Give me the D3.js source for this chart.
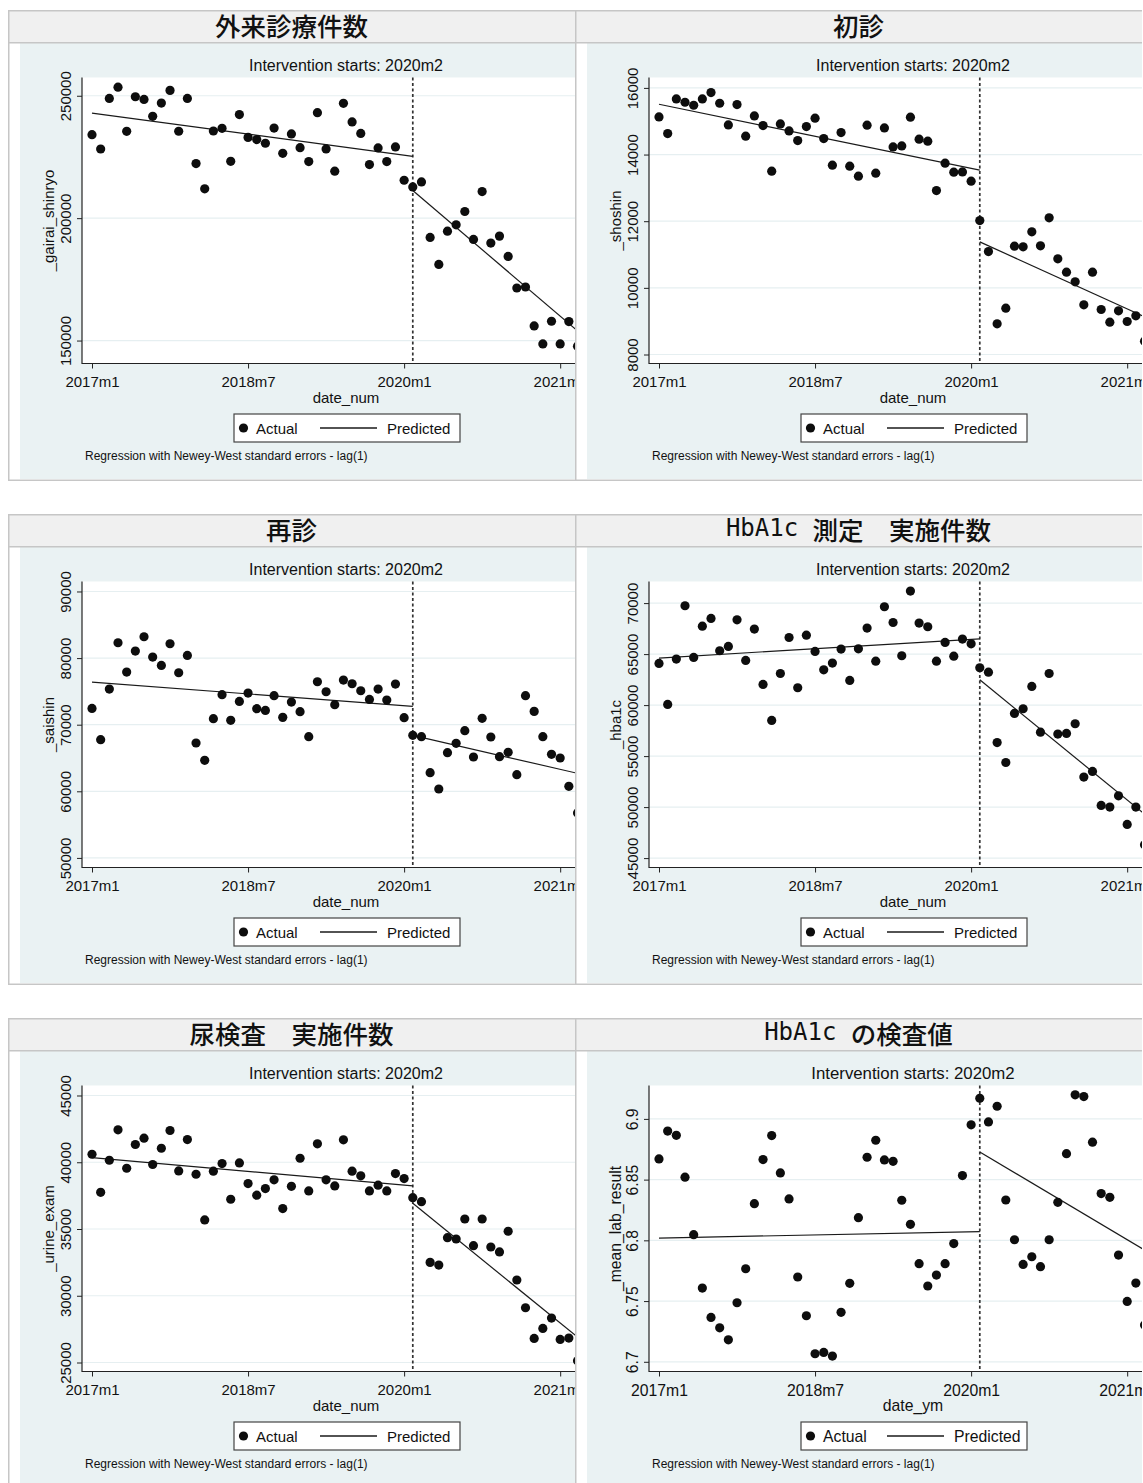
<!DOCTYPE html>
<html>
<head>
<meta charset="utf-8">
<script src="https://cdn.jsdelivr.net/npm/d3@7"></script>
<style>
  body { margin: 0; background: #fff; }
  text { font-family: "Liberation Sans", Arial, sans-serif; fill: #111; }
</style>
</head>
<body>
<script>
// month index 0 = 2017m1, 56 = 2021m9 (right edge of each crop)
const months = d3.range(57);
const tickMonths = [0, 18, 36, 54];
const tickLabels = ["2017m1", "2018m7", "2020m1", "2021m7"];
const interventionMonth = 37;   // 2020m2

// actual values
const gairai = [234100, 228260, 248900, 253500, 235460, 249600, 248500, 241600, 247000, 252200,
  235500, 248900, 222300, 212000, 235600, 236700, 223200, 242300, 233000, 232100,
  230600, 236800, 226500, 234400, 228800, 223100, 243100, 228300, 219200, 246900,
  239300, 234600, 221900, 228700, 223100, 229100, 215490, 212770, 214810, 192120,
  181110, 194700, 197280, 202720, 191300, 210870, 189810, 192660, 184370, 171470,
  171880, 155980, 148640, 157880, 148640, 157740, 147690];
const shoshin = [15130, 14630, 15670, 15570, 15480, 15670, 15860, 15540, 14890, 15500,
  14550, 15160, 14870, 13500, 14920, 14710, 14420, 14840, 15090, 14480,
  13680, 14660, 13650, 13350, 14880, 13440, 14800, 14230, 14260, 15120,
  14460, 14400, 12920, 13740, 13470, 13480, 13200, 12020, 11090, 8920,
  9390, 11250, 11230, 11680, 11260, 12100, 10870, 10470, 10180, 9490,
  10470, 9350, 8970, 9310, 8990, 9160, 8400];
const saishin = [72450, 67750, 75350, 82300, 77900, 81050, 83200, 80150, 78900, 82150,
  77800, 80400, 67250, 64650, 70900, 74500, 70650, 73500, 74750, 72400,
  72150, 74350, 71100, 73400, 71950, 68200, 76450, 74950, 73000, 76700,
  76150, 75100, 73800, 75350, 73700, 76100, 71050, 68400, 68200, 62800,
  60350, 65800, 67200, 69100, 65150, 70950, 68150, 65200, 65850, 62500,
  74350, 72000, 68200, 65550, 65000, 60750, 56750];
const hba1c = [64085, 60065, 64510, 69740, 64670, 67740, 68500, 65330, 65750, 68360,
  64380, 67450, 62030, 58500, 63100, 66630, 61700, 66860, 65260, 63460,
  64120, 65490, 62420, 65520, 67550, 64310, 69640, 68100, 64840, 71180,
  68040, 67680, 64310, 66140, 64800, 66470, 66010, 63660, 63230, 56330,
  54370, 59180, 59640, 61830, 57350, 63100, 57160, 57220, 58170, 52940,
  53500, 50160, 50000, 51110, 48300, 50000, 46310];
const urine = [40600, 37750, 40150, 42430, 39550, 41330, 41800, 39830, 41050, 42380,
  39350, 41700, 39100, 35680, 39330, 39900, 37230, 39950, 38400, 37530,
  38030, 38680, 36530, 38200, 40300, 37850, 41380, 38680, 38230, 41680,
  39330, 38980, 37850, 38280, 37850, 39150, 38780, 37350, 37050, 32500,
  32300, 34350, 34250, 35750, 33750, 35750, 33650, 33280, 34830, 31180,
  29100, 26800, 27550, 28330, 26730, 26830, 25130];
const labResult = [6.867, 6.890, 6.8865, 6.852, 6.8047, 6.7607, 6.7365, 6.728, 6.7181, 6.7486,
  6.7766, 6.8302, 6.8665, 6.8863, 6.8555, 6.8341, 6.7698, 6.7379, 6.7066, 6.7077,
  6.7047, 6.7407, 6.7646, 6.8187, 6.8684, 6.8824, 6.8662, 6.8651, 6.833, 6.8132,
  6.7808, 6.7624, 6.7714, 6.7808, 6.7973, 6.8533, 6.8951, 6.917, 6.8975, 6.9104,
  6.8332, 6.8005, 6.7802, 6.7865, 6.7783, 6.8005, 6.8313, 6.8714, 6.9198, 6.9184,
  6.8808, 6.8385, 6.8354, 6.7879, 6.7497, 6.7648, 6.7302];

// predicted segments: [value at start, value at end]
const predMonths = { pre: [0, 37], post: [37, 56] };
const gairaiPred   = { pre: [242930, 225270], post: [211280, 153940] };
const shoshinPred  = { pre: [15510, 13530],   post: [11380, 9130] };
const saishinPred  = { pre: [76400, 72750],   post: [68400, 62700] };
const hba1cPred    = { pre: [64610, 66500],   post: [62480, 49310] };
const urinePred    = { pre: [40350, 38230],   post: [36930, 26900] };
const labPred      = { pre: [6.8019, 6.8071], post: [6.8728, 6.792] };

const titles = ["外来診療件数", "初診", "再診", "HbA1c 測定　実施件数", "尿検査　実施件数", "HbA1c の検査値"];
const yTitles = ["_gairai_shinryo", "_shoshin", "_saishin", "_hba1c", "_urine_exam", "_mean_lab_result"];
const xTitles = ["date_num", "date_num", "date_num", "date_num", "date_num", "date_ym"];
const yTicks = [
  [150000, 200000, 250000],
  [8000, 10000, 12000, 14000, 16000],
  [50000, 60000, 70000, 80000, 90000],
  [45000, 50000, 55000, 60000, 65000, 70000],
  [25000, 30000, 35000, 40000, 45000],
  [6.7, 6.75, 6.8, 6.85, 6.9]
];
const yDomains = [[140625, 257460], [7730, 16312], [48562, 91498], [44078, 72118], [24326, 45749], [6.692, 6.9275]];
const series = [gairai, shoshin, saishin, hba1c, urine, labResult];
const preds = [gairaiPred, shoshinPred, saishinPred, hba1cPred, urinePred, labPred];

// layout
const W = 1143, H = 1483;
const panelW = 567, panelH = 471;
const colX = [8, 575], rowY = [10, 514, 1018];
const plotTop = 67.5, plotBottom = 353.5, axisX = 74;
const x0 = 84, monthW = 8.67;

const svg = d3.select("body").append("svg").attr("width", W).attr("height", H);
const defs = svg.append("defs");

series.forEach((vals, i) => {
  const px = colX[i % 2], py = rowY[Math.floor(i / 2)];
  const fs = i === 5 ? 1.05 : 1;   // last crop is a touch larger

  defs.append("clipPath").attr("id", "clip" + i)
    .append("rect").attr("x", 0).attr("y", 0).attr("width", panelW).attr("height", panelH);

  const g = svg.append("g")
    .attr("transform", `translate(${px},${py})`)
    .attr("clip-path", `url(#clip${i})`);

  // background, graph region, title bar
  g.append("rect").attr("width", panelW).attr("height", panelH).attr("fill", "#fff");
  g.append("rect").attr("x", 12).attr("y", 33).attr("width", panelW - 12).attr("height", panelH - 35)
    .attr("fill", "#eaf2f3");
  g.append("rect").attr("x", 0.75).attr("y", 0.75).attr("width", panelW + 2).attr("height", panelH - 1.5)
    .attr("fill", "none").attr("stroke", "#c6c6c6").attr("stroke-width", 1.5);
  g.append("rect").attr("x", 0.75).attr("y", 0.75).attr("width", panelW + 2).attr("height", 32)
    .attr("fill", "#f0f0f0").attr("stroke", "#c6c6c6").attr("stroke-width", 1.5);

  const t = g.append("text")
    .attr("x", panelW / 2).attr("y", 14)
    .attr("text-anchor", "middle").attr("dominant-baseline", "central")
    .style("font-size", "25px");
  titles[i].split(/([A-Za-z0-9 ]+)/).filter(s => s.length).forEach(s => {
    const ascii = /^[A-Za-z0-9 ]+$/.test(s);
    t.append("tspan").text(s)
      .style("font-family", ascii ? "'DejaVu Sans Mono', monospace" : "'Noto Sans CJK JP', sans-serif")
      .style("font-size", ascii ? "24px" : "25.5px")
      .style("font-weight", ascii ? 400 : 500);
  });

  // scales
  const x = d3.scaleLinear().domain([0, 54]).range([x0, x0 + 54 * monthW]);
  const y = d3.scaleLinear().domain(yDomains[i]).range([plotBottom, plotTop]);

  // plot region
  g.append("rect").attr("x", axisX).attr("y", plotTop).attr("width", panelW - axisX)
    .attr("height", plotBottom - plotTop).attr("fill", "#fff");

  g.append("g").selectAll("line").data(yTicks[i]).join("line")
    .attr("x1", axisX).attr("x2", panelW)
    .attr("y1", d => y(d)).attr("y2", d => y(d))
    .attr("stroke", "#e6eff1").attr("stroke-width", 1.2);

  g.append("text")
    .attr("x", 338).attr("y", 61)
    .attr("text-anchor", "middle")
    .style("font-size", (16 * fs) + "px")
    .text("Intervention starts: 2020m2");

  // y axis
  const fmt = i === 5 ? (d => String(+d.toFixed(2))) : d3.format("d");
  const ya = g.append("g").attr("transform", `translate(${axisX},0)`)
    .call(d3.axisLeft(y).tickValues(yTicks[i]).tickSize(5).tickFormat(fmt));
  ya.select(".domain").remove();
  ya.selectAll(".tick line").attr("stroke", "#222");
  ya.selectAll(".tick text")
    .attr("transform", "rotate(-90)")
    .attr("x", 0).attr("y", -11.5).attr("dy", null)
    .attr("text-anchor", "middle")
    .style("font-family", "'Liberation Sans', Arial, sans-serif")
    .style("font-size", (15 * fs) + "px").attr("fill", "#111");
  g.append("line").attr("x1", axisX).attr("x2", axisX)
    .attr("y1", plotTop).attr("y2", plotBottom + 0.5)
    .attr("stroke", "#222").attr("stroke-width", 1.2);
  g.append("text")
    .attr("transform", `translate(${axisX - 28},${(plotTop + plotBottom) / 2}) rotate(-90)`)
    .attr("text-anchor", "middle")
    .style("font-size", (15 * fs) + "px")
    .text(yTitles[i]);

  // x axis
  const xa = g.append("g").attr("transform", `translate(0,${plotBottom})`)
    .call(d3.axisBottom(x).tickValues(tickMonths).tickSize(5).tickFormat((d, k) => tickLabels[k]));
  xa.select(".domain").remove();
  xa.selectAll(".tick line").attr("stroke", "#222");
  xa.selectAll(".tick text")
    .attr("y", 13)
    .style("font-family", "'Liberation Sans', Arial, sans-serif")
    .style("font-size", (15 * fs) + "px").attr("fill", "#111");
  g.append("line").attr("x1", axisX).attr("x2", panelW)
    .attr("y1", plotBottom).attr("y2", plotBottom)
    .attr("stroke", "#222").attr("stroke-width", 1.2);
  g.append("text")
    .attr("x", 338).attr("y", 393)
    .attr("text-anchor", "middle")
    .style("font-size", (15 * fs) + "px")
    .text(xTitles[i]);

  // intervention line
  g.append("line")
    .attr("x1", x(interventionMonth)).attr("x2", x(interventionMonth))
    .attr("y1", plotTop).attr("y2", plotBottom)
    .attr("stroke", "#333").attr("stroke-width", 1.7).attr("stroke-dasharray", "3,2.5");

  // predicted
  const line = d3.line().x(d => x(d[0])).y(d => y(d[1]));
  ["pre", "post"].forEach(k => {
    g.append("path")
      .datum(predMonths[k].map((m, j) => [m, preds[i][k][j]]))
      .attr("fill", "none").attr("stroke", "#1a1a1a").attr("stroke-width", 1.2)
      .attr("d", line);
  });

  // actual
  g.append("g").selectAll("circle").data(months).join("circle")
    .attr("cx", m => x(m)).attr("cy", m => y(vals[m]))
    .attr("r", 4.6).attr("fill", "#0d0d0d");

  // legend
  const lg = g.append("g").attr("transform", "translate(226,404)");
  lg.append("rect").attr("width", 226).attr("height", 28)
    .attr("fill", "#fff").attr("stroke", "#444").attr("stroke-width", 1.2);
  lg.append("circle").attr("cx", 9.5).attr("cy", 14).attr("r", 4.6).attr("fill", "#0d0d0d");
  lg.append("text").attr("x", 22).attr("y", 19.5).style("font-size", (15 * fs) + "px").text("Actual");
  lg.append("line").attr("x1", 86).attr("x2", 143).attr("y1", 14).attr("y2", 14)
    .attr("stroke", "#1a1a1a").attr("stroke-width", 1.5);
  lg.append("text").attr("x", 153).attr("y", 19.5).style("font-size", (15 * fs) + "px").text("Predicted");

  // note
  g.append("text").attr("x", 77).attr("y", 450)
    .style("font-size", "12px")
    .text("Regression with Newey-West standard errors - lag(1)");
});
</script>
</body>
</html>
